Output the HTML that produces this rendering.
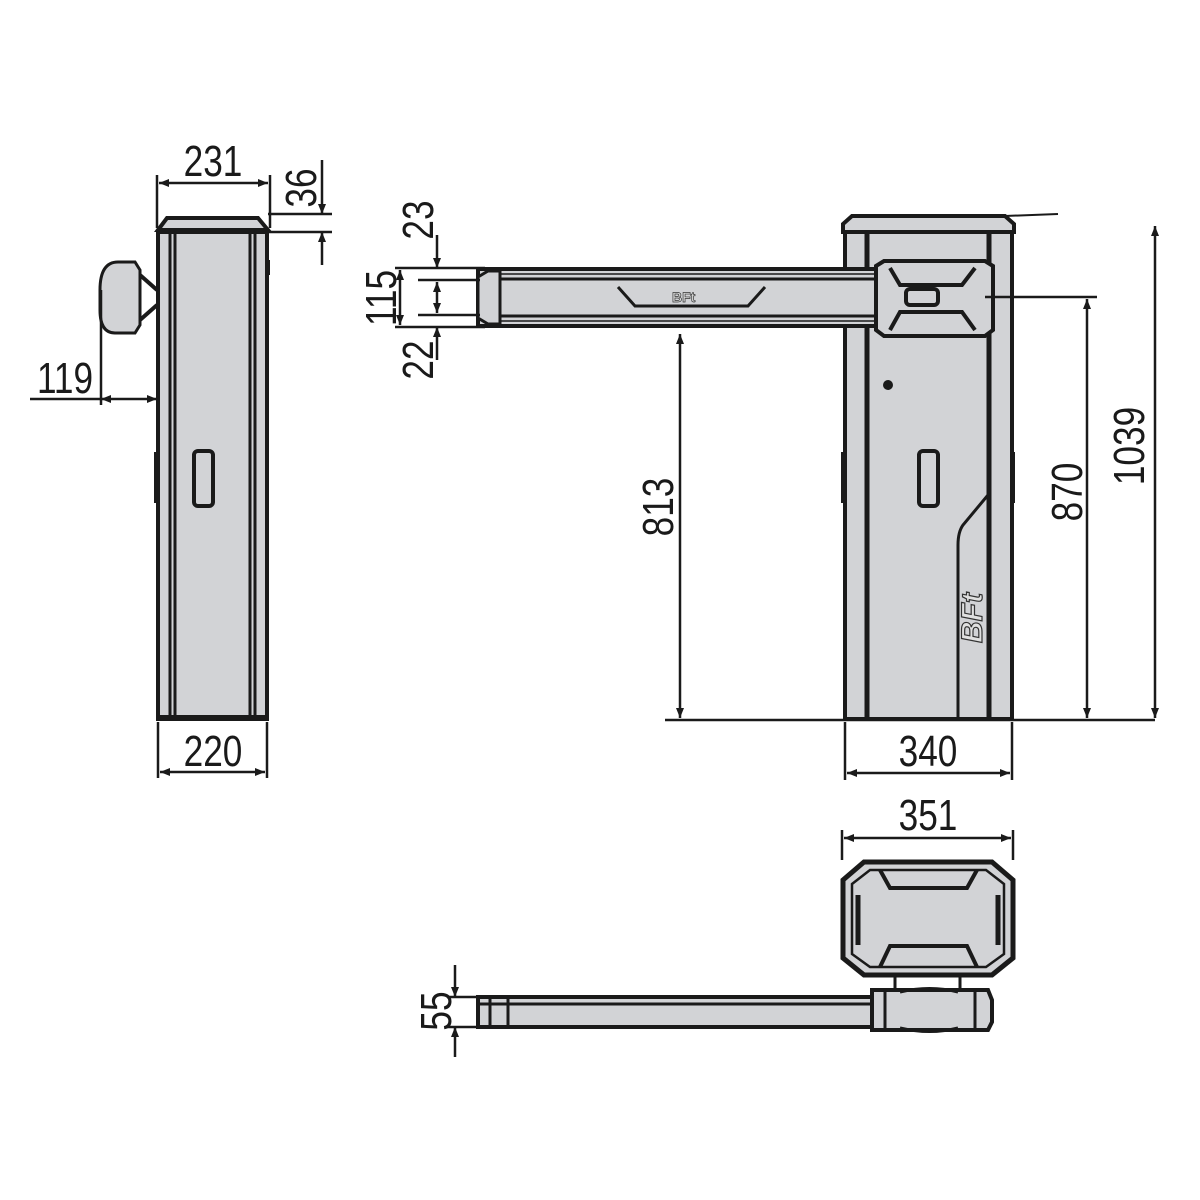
<!DOCTYPE html>
<html><head><meta charset="utf-8"><style>
html,body{margin:0;padding:0;background:#fff;}
svg{display:block;}
text{font-family:"Liberation Sans",sans-serif;fill:#1a1a1a;}
</style></head><body>
<svg width="1200" height="1200" viewBox="0 0 1200 1200" xmlns="http://www.w3.org/2000/svg">
<defs>
<marker id="a" viewBox="0 0 10 10" refX="10" refY="5" markerWidth="20" markerHeight="10" orient="auto-start-reverse" markerUnits="userSpaceOnUse"><path d="M0,1 L10,5 L0,9 z" fill="#1a1a1a"/></marker>
</defs>
<g stroke="#1a1a1a" fill="none">
<!-- LEFT POST -->
<path d="M100,290 Q100,262 118,262 L135,262 L140,270 L140,325 L135,333 L115,333 Q100,333 100,310 Z" fill="#d2d3d6" stroke-width="3"/>
<path d="M140,275 L157,290 M140,320 L157,305" stroke-width="4"/>
<rect x="158" y="232" width="109" height="487" fill="#d2d3d6" stroke-width="4"/>
<path d="M158,230 L167,218 L258,218 L268,230 Z" fill="#d2d3d6" stroke-width="4"/>
<path d="M170,232V717 M175,232V717 M250,232V717 M255,232V717" stroke-width="3"/>
<line x1="158" y1="717" x2="267" y2="717" stroke-width="4"/>
<rect x="194" y="451" width="19" height="55" rx="4" stroke-width="4"/>
<path d="M156,452V503 M268,260V275" stroke-width="4"/>
<!-- dims left -->
<path d="M157,175V228 M270,175V228" stroke-width="2.5"/>
<line x1="159" y1="183" x2="268" y2="183" stroke-width="2.5" marker-start="url(#a)" marker-end="url(#a)"/>
<path d="M268,214H332 M268,232H332" stroke-width="2.5"/>
<line x1="322" y1="160" x2="322" y2="214" stroke-width="2.5" marker-end="url(#a)"/>
<line x1="322" y1="265" x2="322" y2="232" stroke-width="2.5" marker-end="url(#a)"/>
<path d="M101,290V405" stroke-width="2.5"/>
<line x1="30" y1="399" x2="101" y2="399" stroke-width="2.5"/>
<line x1="101" y1="399" x2="157" y2="399" stroke-width="2.5" marker-start="url(#a)" marker-end="url(#a)"/>
<path d="M158,722V778 M267,722V778" stroke-width="2.5"/>
<line x1="160" y1="772" x2="265" y2="772" stroke-width="2.5" marker-start="url(#a)" marker-end="url(#a)"/>

<!-- RIGHT TOWER -->
<rect x="845" y="232" width="167" height="487" fill="#d2d3d6" stroke-width="4"/>
<path d="M843,232 L843,224 L852,216 L1005,216 L1014,224 L1014,232 Z" fill="#d2d3d6" stroke-width="4"/>
<path d="M1005,216 L1058,214" stroke-width="2"/>
<path d="M867,232V719 M989,232V719" stroke-width="5"/>
<path d="M843,452V503 M1013,452V503" stroke-width="4"/>
<rect x="919" y="451" width="19" height="55" rx="4" stroke-width="4"/>
<path d="M988,495 L963,525 Q958,532 958,545 L958,719" stroke-width="3"/>
<circle cx="888" cy="385" r="5" fill="#1a1a1a" stroke="none"/>
<text x="0" y="0" transform="translate(982,643) rotate(-90)" font-size="30" font-weight="bold" style="fill:#e0e0e0;stroke:#333;stroke-width:1.2;font-style:italic">BFt</text>
<!-- arm -->
<rect x="478" y="269" width="400" height="57" fill="#d2d3d6" stroke-width="4"/>
<path d="M478,277 L488,271 L500,271 L500,324 L488,324 L478,318 Z" fill="#d2d3d6" stroke-width="3"/>
<path d="M500,269V327" stroke-width="2"/>
<path d="M500,279H875 M500,316H875" stroke-width="3"/>
<path d="M500,274H875 M500,321H875" stroke-width="1.5"/>
<path d="M618,287 L635,306 L748,306 L765,287" fill="#d2d3d6" stroke-width="3"/>
<text x="672" y="302" font-size="14" font-weight="bold" style="fill:#ddd;stroke:#333;stroke-width:0.7">BFt</text>
<!-- head -->
<path d="M876,266 L884,261 L985,261 L993,266 L993,330 L985,336 L884,336 L876,330 Z" fill="#d2d3d6" stroke-width="4"/>
<path d="M890,268 L900,285 L962,285 L975,268" stroke-width="4"/>
<path d="M890,330 L900,312 L962,312 L975,330" stroke-width="4"/>
<rect x="906" y="289" width="32" height="16" rx="4" stroke-width="4"/>
<path d="M985,297H1097" stroke-width="2.5"/>
<!-- arm dims -->
<path d="M395,268H485 M395,327H485 M418,280H480 M418,315H480" stroke-width="2.5"/>
<line x1="400" y1="270" x2="400" y2="325" stroke-width="2.5" marker-start="url(#a)" marker-end="url(#a)"/>
<line x1="437" y1="235" x2="437" y2="268" stroke-width="2.5" marker-end="url(#a)"/>
<line x1="437" y1="282" x2="437" y2="313" stroke-width="2.5" marker-start="url(#a)" marker-end="url(#a)"/>
<line x1="437" y1="360" x2="437" y2="327" stroke-width="2.5" marker-end="url(#a)"/>
<!-- height dims -->
<line x1="665" y1="720" x2="1155" y2="720" stroke-width="2.5"/>
<line x1="680" y1="718" x2="680" y2="334" stroke-width="2.5" marker-start="url(#a)" marker-end="url(#a)"/>
<line x1="1087" y1="718" x2="1087" y2="299" stroke-width="2.5" marker-start="url(#a)" marker-end="url(#a)"/>
<line x1="1155" y1="718" x2="1155" y2="226" stroke-width="2.5" marker-start="url(#a)" marker-end="url(#a)"/>
<path d="M845,722V780 M1012,722V780" stroke-width="2.5"/>
<line x1="847" y1="773" x2="1010" y2="773" stroke-width="2.5" marker-start="url(#a)" marker-end="url(#a)"/>

<!-- BOTTOM VIEW -->
<path d="M842,830V860 M1013,830V860" stroke-width="2.5"/>
<line x1="844" y1="838" x2="1011" y2="838" stroke-width="2.5" marker-start="url(#a)" marker-end="url(#a)"/>
<path d="M843,880 L864,862 L992,862 L1013,880 L1013,958 L992,975 L864,975 L843,958 Z" fill="#d2d3d6" stroke-width="5"/>
<path d="M852,884 L870,870 L986,870 L1004,884 L1004,954 L986,967 L870,967 L852,954 Z" stroke-width="2.5"/>
<path d="M880,870 L890,888 L967,888 L977,870" stroke-width="4"/>
<path d="M880,967 L890,946 L967,946 L977,967" stroke-width="4"/>
<path d="M858,895V945 M998,895V945" stroke-width="5"/>
<path d="M895,975 L895,990 M960,975 L960,990" stroke-width="3"/>
<rect x="478" y="997" width="400" height="30" fill="#d2d3d6" stroke-width="4"/>
<path d="M490,997V1027 M508,997V1027 M478,1004H878" stroke-width="3"/>
<path d="M872,990 L988,990 L992,1000 L992,1022 L988,1030 L872,1030 Z" fill="#d2d3d6" stroke-width="4"/>
<path d="M885,990V1030 M975,990V1030 M900,992 Q930,985 958,992 M900,1028 Q930,1035 958,1028" stroke-width="3"/>
<path d="M447,997H485 M447,1027H485" stroke-width="2.5"/>
<line x1="455" y1="965" x2="455" y2="997" stroke-width="2.5" marker-end="url(#a)"/>
<line x1="455" y1="1057" x2="455" y2="1027" stroke-width="2.5" marker-end="url(#a)"/>
</g>
<g font-size="44" text-anchor="middle">
<text transform="translate(213,176) scale(0.8,1)">231</text>
<text transform="translate(65,393) scale(0.8,1)">119</text>
<text transform="translate(213,766) scale(0.8,1)">220</text>
<text transform="translate(928,766) scale(0.8,1)">340</text>
<text transform="translate(928,830) scale(0.8,1)">351</text>
<text transform="translate(316,188) rotate(-90) scale(0.8,1)">36</text>
<text transform="translate(433,220) rotate(-90) scale(0.8,1)">23</text>
<text transform="translate(396,298) rotate(-90) scale(0.8,1)">115</text>
<text transform="translate(433,360) rotate(-90) scale(0.8,1)">22</text>
<text transform="translate(673,507) rotate(-90) scale(0.8,1)">813</text>
<text transform="translate(1082,492) rotate(-90) scale(0.8,1)">870</text>
<text transform="translate(1144,446) rotate(-90) scale(0.8,1)">1039</text>
<text transform="translate(451,1011) rotate(-90) scale(0.8,1)">55</text>
</g>
</svg>
</body></html>
